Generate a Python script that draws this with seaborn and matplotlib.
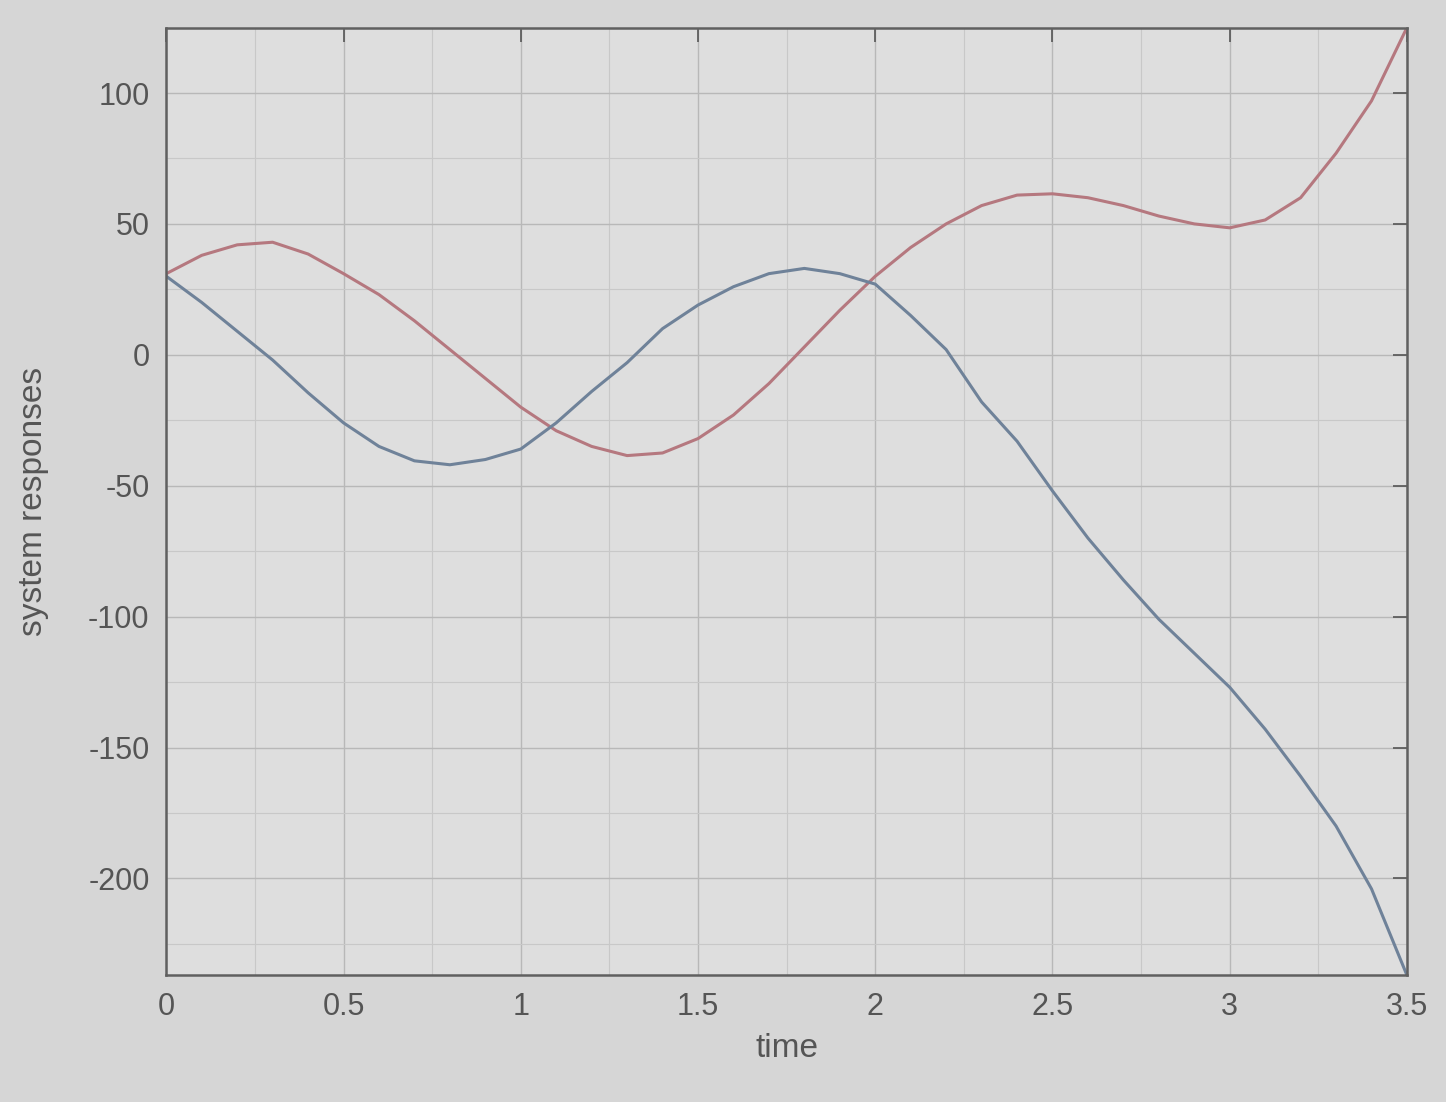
import matplotlib
matplotlib.use("Agg")
import matplotlib.pyplot as plt
import seaborn as sns
import pandas as pd
from matplotlib.ticker import MultipleLocator

# time axis, step 0.1
tiempo = [0.0, 0.1, 0.2, 0.3, 0.4, 0.5, 0.6, 0.7, 0.8, 0.9,
          1.0, 1.1, 1.2, 1.3, 1.4, 1.5, 1.6, 1.7, 1.8, 1.9,
          2.0, 2.1, 2.2, 2.3, 2.4, 2.5, 2.6, 2.7, 2.8, 2.9,
          3.0, 3.1, 3.2, 3.3, 3.4, 3.5]

# red response
respuesta_roja = [31, 38, 42, 43, 38.5, 31, 23, 13, 2, -9,
                  -20, -29, -35, -38.5, -37.5, -32, -23, -11, 3, 17,
                  30, 41, 50, 57, 61, 61.5, 60, 57, 53, 50,
                  48.5, 51.5, 60, 77, 97, 125]

# blue response
respuesta_azul = [30, 20, 9, -2, -14.5, -26, -35, -40.5, -42, -40,
                  -36, -26, -14, -3, 10, 19, 26, 31, 33, 31,
                  27, 15, 2, -18, -33, -52, -70, -86, -101, -114,
                  -127, -143, -161, -180, -204, -237]

x_ticks = [0, 0.5, 1, 1.5, 2, 2.5, 3, 3.5]
x_labels = ["0", "0.5", "1", "1.5", "2", "2.5", "3", "3.5"]
y_ticks = [-200, -150, -100, -50, 0, 50, 100]

df = pd.DataFrame({
    "time": tiempo * 2,
    "value": respuesta_roja + respuesta_azul,
    "serie": ["rojo"] * len(tiempo) + ["azul"] * len(tiempo),
})

sns.set_theme(style="white")
plt.rcParams['font.family'] = ['Liberation Sans', 'DejaVu Sans']
plt.rcParams['axes.unicode_minus'] = False

fondo = "#d6d6d6"
fig, ax = plt.subplots(figsize=(14.46, 11.02), dpi=100)
fig.patch.set_facecolor(fondo)
ax.set_facecolor("#dedede")
fig.subplots_adjust(left=0.115, right=0.973, top=0.975, bottom=0.115)

sns.lineplot(data=df, x="time", y="value", hue="serie",
             palette={"rojo": "#b5787f", "azul": "#6f8299"},
             linewidth=2.2, legend=False, ax=ax)

ax.set_xlim(0, 3.5)
ax.set_ylim(min(respuesta_azul), max(respuesta_roja))
ax.set_xticks(x_ticks)
ax.set_xticklabels(x_labels)
ax.set_yticks(y_ticks)
ax.xaxis.set_minor_locator(MultipleLocator(0.25))
ax.yaxis.set_minor_locator(MultipleLocator(25))

ax.grid(True, which="major", color="#b8b8b8", linewidth=1.0)
ax.grid(True, which="minor", color="#c8c8c8", linewidth=0.8)
ax.tick_params(axis="both", which="major", direction="in", length=10,
               width=1.2, colors="#555555", labelsize=22,
               top=True, right=True, pad=12)
ax.tick_params(axis="both", which="minor", length=0)
for lado in ax.spines.values():
    lado.set_color("#606060")
    lado.set_linewidth(1.8)

ax.set_xlabel("time", fontsize=24, color="#555555", labelpad=8)
ax.set_ylabel("system responses", fontsize=24, color="#555555", labelpad=28)

fig.savefig("out.png", dpi=100, facecolor=fondo)
plt.close(fig)
